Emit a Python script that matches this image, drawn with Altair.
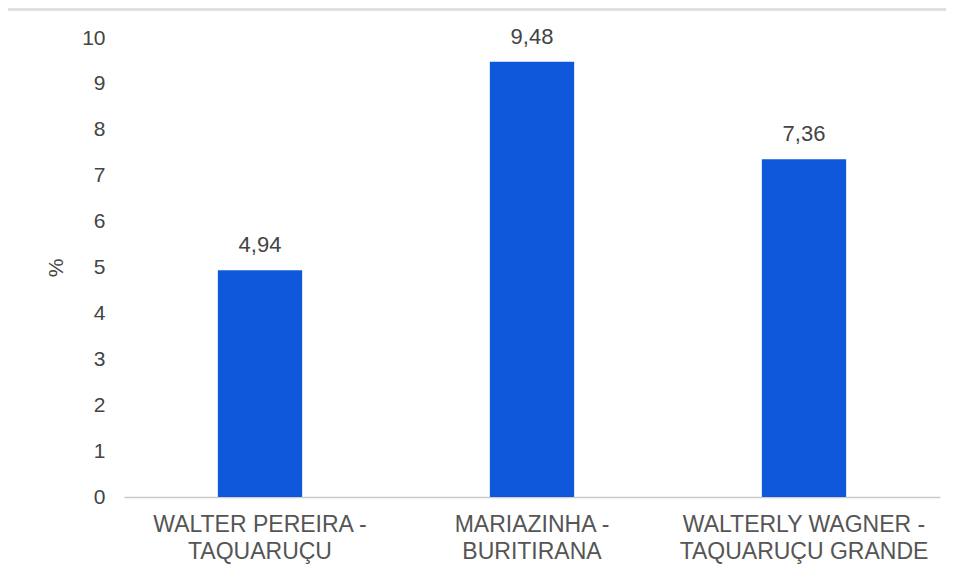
import altair as alt
import pandas as pd

categories = ["WALTER PEREIRA -\nTAQUARUÇU", "MARIAZINHA -\nBURITIRANA", "WALTERLY WAGNER -\nTAQUARUÇU GRANDE"]
values = [4.94, 9.48, 7.36]
y_ticks = [0, 1, 2, 3, 4, 5, 6, 7, 8, 9, 10]

df = pd.DataFrame({"cat": categories, "value": values})

FONT = "Liberation Sans"
W, H = 816, 459

base = alt.Chart(df).encode(
    x=alt.X("cat:N", sort=None, title=None,
            scale=alt.Scale(paddingInner=0.69, paddingOuter=0.345),
            axis=alt.Axis(labelExpr="split(datum.label, '\\n')", labelAngle=0,
                          labelFont=FONT, labelFontSize=23, labelColor="#555555",
                          labelLineHeight=27, labelPadding=16, labelLimit=500, ticks=False,
                          domainColor="#cccccc", domainWidth=1.5, grid=False)),
    y=alt.Y("value:Q", title="%",
            scale=alt.Scale(domain=[0, 10], nice=False),
            axis=alt.Axis(values=y_ticks, domain=False, ticks=False, grid=False,
                          labelFont=FONT, labelFontSize=21, labelColor="#444444",
                          labelPadding=19, titleFont=FONT, titleFontSize=21,
                          titleFontWeight="normal", titleColor="#444444",
                          titleAngle=-90, titleX=-68, titleY=H / 2,
                          titleAlign="center", titleBaseline="middle")),
)

bars = base.mark_bar(color="#1058DB")

labels = base.transform_calculate(
    label="replace(format(datum.value, '.2f'), '.', ',')"
).mark_text(font=FONT, fontSize=22, color="#444444", baseline="alphabetic", dy=-18).encode(
    text="label:N"
)

top_border = alt.Chart(df).mark_rule(color="#dddddd", strokeWidth=2).encode(
    x=alt.value(-118), x2=alt.value(830), y=alt.value(-28.5)
)
left_border = alt.Chart(df).mark_rule(color="#dddddd", strokeWidth=2).encode(
    x=alt.value(-117), y=alt.value(-29), y2=alt.value(560)
)

chart = alt.layer(bars, labels, top_border, left_border).properties(
    width=W, height=H,
    background="white",
    autosize=alt.AutoSizeParams(type="none"),
    padding={"left": 116, "top": 30, "right": 6, "bottom": 70},
).configure_view(stroke="transparent", strokeWidth=0)

chart.save("out.html", embed_options={"renderer": "svg", "actions": False})
